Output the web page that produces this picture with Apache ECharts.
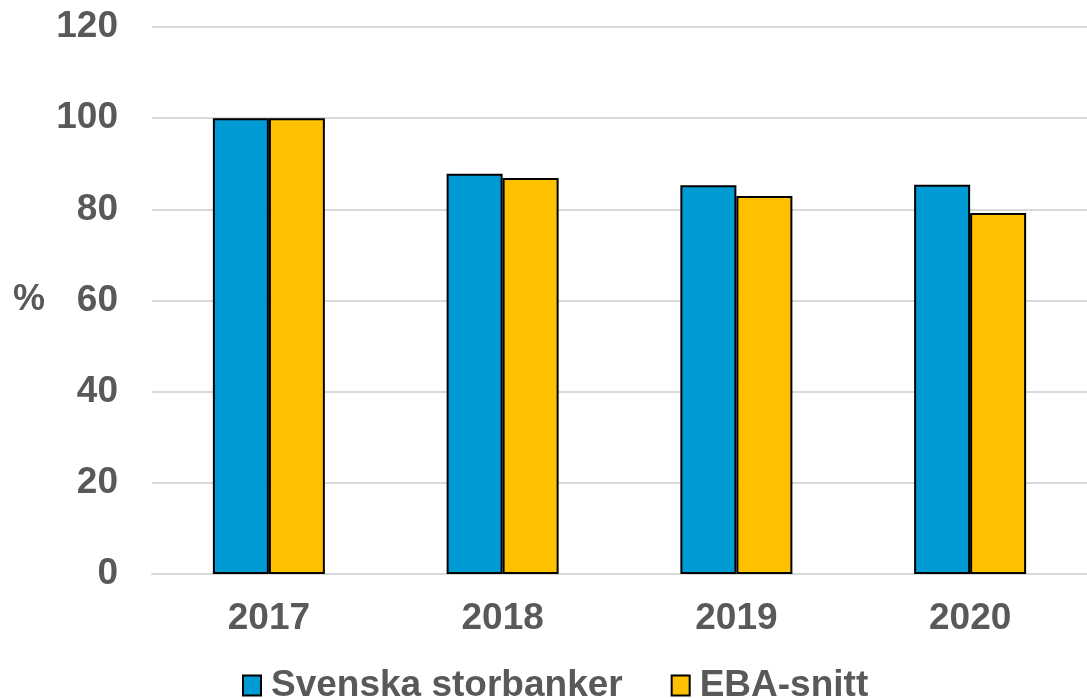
<!DOCTYPE html>
<html>
<head>
<meta charset="utf-8">
<script src="https://cdn.jsdelivr.net/npm/echarts@6/dist/echarts.min.js"></script>
<style>html,body{margin:0;padding:0;background:#fff}#c{width:1087px;height:698px}</style>
</head>
<body>
<div id="c"></div>
<script>
var categories = ['2017', '2018', '2019', '2020'];
var svenska = [100, 87.8, 85.3, 85.4];
var eba = [100, 86.9, 82.9, 79.2];
var seriesNames = ['Svenska storbanker', 'EBA-snitt'];
var yTicks = { min: 0, max: 120, interval: 20 };

var font = 'Liberation Sans, Arial, sans-serif';
var chart = echarts.init(document.getElementById('c'));
chart.setOption({
  animation: false,
  grid: { left: 152, right: 0, top: 27, bottom: 124, outerBoundsMode: 'none', containLabel: false },
  legend: {
    left: 237, top: 662,
    icon: 'rect',
    itemWidth: 18, itemHeight: 20, itemGap: 48,
    textStyle: { color: '#595959', fontSize: 37, fontWeight: 'bold', fontFamily: font, padding: [0, 0, 0, 5] },
    data: seriesNames
  },
  xAxis: {
    type: 'category', data: categories,
    axisLine: { lineStyle: { color: '#d9d9d9', width: 2 } },
    axisTick: { show: false },
    axisLabel: { color: '#595959', fontSize: 37, fontWeight: 'bold', fontFamily: font, margin: 26 }
  },
  yAxis: {
    type: 'value', min: yTicks.min, max: yTicks.max, interval: yTicks.interval,
    name: '%', nameLocation: 'middle', nameGap: 107, nameRotate: 0,
    nameTextStyle: { color: '#595959', fontSize: 36, fontWeight: 'bold', fontFamily: font },
    axisLine: { show: false }, axisTick: { show: false },
    splitLine: { lineStyle: { color: '#d9d9d9', width: 2 } },
    axisLabel: { color: '#595959', fontSize: 37, fontWeight: 'bold', fontFamily: font, margin: 34 }
  },
  series: [
    { name: seriesNames[0], type: 'bar', data: svenska, barWidth: 56, barGap: '0%',
      itemStyle: { color: '#009BD5', borderColor: '#000', borderWidth: 2 } },
    { name: seriesNames[1], type: 'bar', data: eba, barWidth: 56, barGap: '0%',
      itemStyle: { color: '#FFC000', borderColor: '#000', borderWidth: 2 } }
  ]
});
</script>
</body>
</html>
